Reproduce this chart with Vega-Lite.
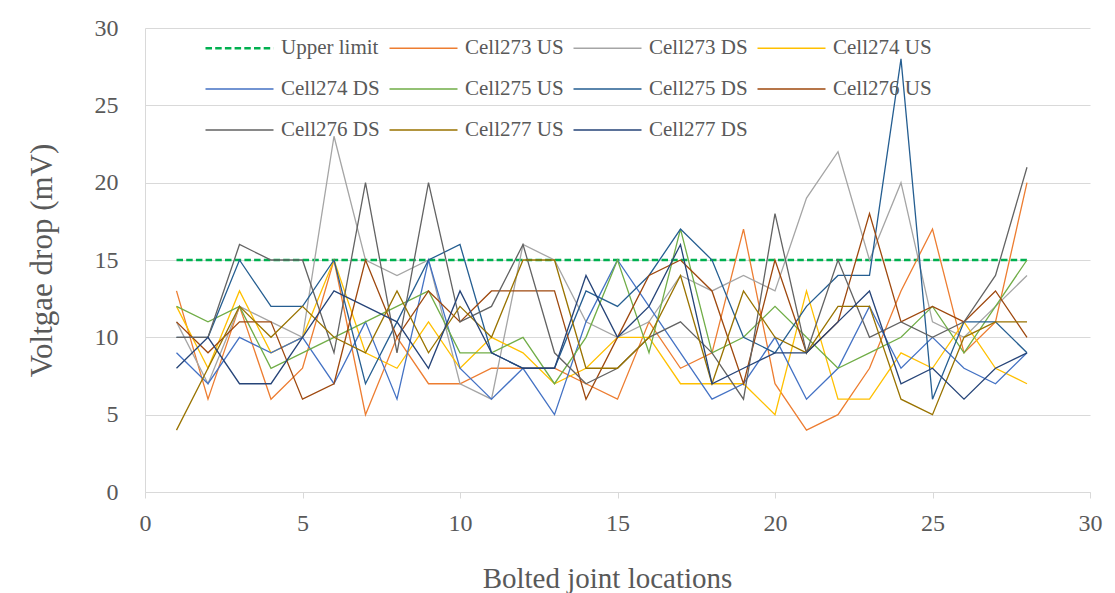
{
  "$schema": "https://vega.github.io/schema/vega-lite/v6.json",
  "width": 945,
  "height": 464,
  "autosize": {"type": "none"},
  "padding": {"left": 145, "top": 28, "right": 25, "bottom": 101},
  "background": "white",
  "config": {"view": {"stroke": null}},
  "data": {"values": [
    {"loc":1,"mV":15,"series":"Upper limit"},{"loc":2,"mV":15,"series":"Upper limit"},{"loc":3,"mV":15,"series":"Upper limit"},{"loc":4,"mV":15,"series":"Upper limit"},{"loc":5,"mV":15,"series":"Upper limit"},{"loc":6,"mV":15,"series":"Upper limit"},{"loc":7,"mV":15,"series":"Upper limit"},{"loc":8,"mV":15,"series":"Upper limit"},{"loc":9,"mV":15,"series":"Upper limit"},{"loc":10,"mV":15,"series":"Upper limit"},{"loc":11,"mV":15,"series":"Upper limit"},{"loc":12,"mV":15,"series":"Upper limit"},{"loc":13,"mV":15,"series":"Upper limit"},{"loc":14,"mV":15,"series":"Upper limit"},{"loc":15,"mV":15,"series":"Upper limit"},{"loc":16,"mV":15,"series":"Upper limit"},{"loc":17,"mV":15,"series":"Upper limit"},{"loc":18,"mV":15,"series":"Upper limit"},{"loc":19,"mV":15,"series":"Upper limit"},{"loc":20,"mV":15,"series":"Upper limit"},{"loc":21,"mV":15,"series":"Upper limit"},{"loc":22,"mV":15,"series":"Upper limit"},{"loc":23,"mV":15,"series":"Upper limit"},{"loc":24,"mV":15,"series":"Upper limit"},{"loc":25,"mV":15,"series":"Upper limit"},{"loc":26,"mV":15,"series":"Upper limit"},{"loc":27,"mV":15,"series":"Upper limit"},{"loc":28,"mV":15,"series":"Upper limit"},

    {"loc":1,"mV":13,"series":"Cell273 US"},{"loc":2,"mV":6,"series":"Cell273 US"},{"loc":3,"mV":12,"series":"Cell273 US"},{"loc":4,"mV":6,"series":"Cell273 US"},{"loc":5,"mV":8,"series":"Cell273 US"},{"loc":6,"mV":15,"series":"Cell273 US"},{"loc":7,"mV":5,"series":"Cell273 US"},{"loc":8,"mV":10,"series":"Cell273 US"},{"loc":9,"mV":7,"series":"Cell273 US"},{"loc":10,"mV":7,"series":"Cell273 US"},{"loc":11,"mV":8,"series":"Cell273 US"},{"loc":12,"mV":8,"series":"Cell273 US"},{"loc":13,"mV":8,"series":"Cell273 US"},{"loc":14,"mV":7,"series":"Cell273 US"},{"loc":15,"mV":6,"series":"Cell273 US"},{"loc":16,"mV":11,"series":"Cell273 US"},{"loc":17,"mV":8,"series":"Cell273 US"},{"loc":18,"mV":9,"series":"Cell273 US"},{"loc":19,"mV":17,"series":"Cell273 US"},{"loc":20,"mV":7,"series":"Cell273 US"},{"loc":21,"mV":4,"series":"Cell273 US"},{"loc":22,"mV":5,"series":"Cell273 US"},{"loc":23,"mV":8,"series":"Cell273 US"},{"loc":24,"mV":13,"series":"Cell273 US"},{"loc":25,"mV":17,"series":"Cell273 US"},{"loc":26,"mV":9,"series":"Cell273 US"},{"loc":27,"mV":11,"series":"Cell273 US"},{"loc":28,"mV":20,"series":"Cell273 US"},

    {"loc":1,"mV":11,"series":"Cell273 DS"},{"loc":2,"mV":7,"series":"Cell273 DS"},{"loc":3,"mV":12,"series":"Cell273 DS"},{"loc":4,"mV":11,"series":"Cell273 DS"},{"loc":5,"mV":10,"series":"Cell273 DS"},{"loc":6,"mV":23,"series":"Cell273 DS"},{"loc":7,"mV":15,"series":"Cell273 DS"},{"loc":8,"mV":14,"series":"Cell273 DS"},{"loc":9,"mV":15,"series":"Cell273 DS"},{"loc":10,"mV":7,"series":"Cell273 DS"},{"loc":11,"mV":6,"series":"Cell273 DS"},{"loc":12,"mV":16,"series":"Cell273 DS"},{"loc":13,"mV":15,"series":"Cell273 DS"},{"loc":14,"mV":11,"series":"Cell273 DS"},{"loc":15,"mV":10,"series":"Cell273 DS"},{"loc":16,"mV":11,"series":"Cell273 DS"},{"loc":17,"mV":14,"series":"Cell273 DS"},{"loc":18,"mV":13,"series":"Cell273 DS"},{"loc":19,"mV":14,"series":"Cell273 DS"},{"loc":20,"mV":13,"series":"Cell273 DS"},{"loc":21,"mV":19,"series":"Cell273 DS"},{"loc":22,"mV":22,"series":"Cell273 DS"},{"loc":23,"mV":15,"series":"Cell273 DS"},{"loc":24,"mV":20,"series":"Cell273 DS"},{"loc":25,"mV":11,"series":"Cell273 DS"},{"loc":26,"mV":10,"series":"Cell273 DS"},{"loc":27,"mV":12,"series":"Cell273 DS"},{"loc":28,"mV":14,"series":"Cell273 DS"},

    {"loc":1,"mV":12,"series":"Cell274 US"},{"loc":2,"mV":8,"series":"Cell274 US"},{"loc":3,"mV":13,"series":"Cell274 US"},{"loc":4,"mV":9,"series":"Cell274 US"},{"loc":5,"mV":10,"series":"Cell274 US"},{"loc":6,"mV":15,"series":"Cell274 US"},{"loc":7,"mV":9,"series":"Cell274 US"},{"loc":8,"mV":8,"series":"Cell274 US"},{"loc":9,"mV":11,"series":"Cell274 US"},{"loc":10,"mV":8,"series":"Cell274 US"},{"loc":11,"mV":10,"series":"Cell274 US"},{"loc":12,"mV":9,"series":"Cell274 US"},{"loc":13,"mV":7,"series":"Cell274 US"},{"loc":14,"mV":8,"series":"Cell274 US"},{"loc":15,"mV":10,"series":"Cell274 US"},{"loc":16,"mV":10,"series":"Cell274 US"},{"loc":17,"mV":7,"series":"Cell274 US"},{"loc":18,"mV":7,"series":"Cell274 US"},{"loc":19,"mV":7,"series":"Cell274 US"},{"loc":20,"mV":5,"series":"Cell274 US"},{"loc":21,"mV":13,"series":"Cell274 US"},{"loc":22,"mV":6,"series":"Cell274 US"},{"loc":23,"mV":6,"series":"Cell274 US"},{"loc":24,"mV":9,"series":"Cell274 US"},{"loc":25,"mV":8,"series":"Cell274 US"},{"loc":26,"mV":11,"series":"Cell274 US"},{"loc":27,"mV":8,"series":"Cell274 US"},{"loc":28,"mV":7,"series":"Cell274 US"},

    {"loc":1,"mV":9,"series":"Cell274 DS"},{"loc":2,"mV":7,"series":"Cell274 DS"},{"loc":3,"mV":10,"series":"Cell274 DS"},{"loc":4,"mV":9,"series":"Cell274 DS"},{"loc":5,"mV":10,"series":"Cell274 DS"},{"loc":6,"mV":7,"series":"Cell274 DS"},{"loc":7,"mV":11,"series":"Cell274 DS"},{"loc":8,"mV":6,"series":"Cell274 DS"},{"loc":9,"mV":15,"series":"Cell274 DS"},{"loc":10,"mV":8,"series":"Cell274 DS"},{"loc":11,"mV":6,"series":"Cell274 DS"},{"loc":12,"mV":8,"series":"Cell274 DS"},{"loc":13,"mV":5,"series":"Cell274 DS"},{"loc":14,"mV":11,"series":"Cell274 DS"},{"loc":15,"mV":15,"series":"Cell274 DS"},{"loc":16,"mV":12,"series":"Cell274 DS"},{"loc":17,"mV":9,"series":"Cell274 DS"},{"loc":18,"mV":6,"series":"Cell274 DS"},{"loc":19,"mV":7,"series":"Cell274 DS"},{"loc":20,"mV":10,"series":"Cell274 DS"},{"loc":21,"mV":6,"series":"Cell274 DS"},{"loc":22,"mV":8,"series":"Cell274 DS"},{"loc":23,"mV":12,"series":"Cell274 DS"},{"loc":24,"mV":8,"series":"Cell274 DS"},{"loc":25,"mV":10,"series":"Cell274 DS"},{"loc":26,"mV":8,"series":"Cell274 DS"},{"loc":27,"mV":7,"series":"Cell274 DS"},{"loc":28,"mV":9,"series":"Cell274 DS"},

    {"loc":1,"mV":12,"series":"Cell275 US"},{"loc":2,"mV":11,"series":"Cell275 US"},{"loc":3,"mV":12,"series":"Cell275 US"},{"loc":4,"mV":8,"series":"Cell275 US"},{"loc":5,"mV":9,"series":"Cell275 US"},{"loc":6,"mV":10,"series":"Cell275 US"},{"loc":7,"mV":11,"series":"Cell275 US"},{"loc":8,"mV":12,"series":"Cell275 US"},{"loc":9,"mV":13,"series":"Cell275 US"},{"loc":10,"mV":9,"series":"Cell275 US"},{"loc":11,"mV":9,"series":"Cell275 US"},{"loc":12,"mV":10,"series":"Cell275 US"},{"loc":13,"mV":7,"series":"Cell275 US"},{"loc":14,"mV":10,"series":"Cell275 US"},{"loc":15,"mV":15,"series":"Cell275 US"},{"loc":16,"mV":9,"series":"Cell275 US"},{"loc":17,"mV":17,"series":"Cell275 US"},{"loc":18,"mV":9,"series":"Cell275 US"},{"loc":19,"mV":10,"series":"Cell275 US"},{"loc":20,"mV":12,"series":"Cell275 US"},{"loc":21,"mV":10,"series":"Cell275 US"},{"loc":22,"mV":8,"series":"Cell275 US"},{"loc":23,"mV":9,"series":"Cell275 US"},{"loc":24,"mV":10,"series":"Cell275 US"},{"loc":25,"mV":12,"series":"Cell275 US"},{"loc":26,"mV":9,"series":"Cell275 US"},{"loc":27,"mV":12,"series":"Cell275 US"},{"loc":28,"mV":15,"series":"Cell275 US"},

    {"loc":1,"mV":10,"series":"Cell275 DS"},{"loc":2,"mV":10,"series":"Cell275 DS"},{"loc":3,"mV":15,"series":"Cell275 DS"},{"loc":4,"mV":12,"series":"Cell275 DS"},{"loc":5,"mV":12,"series":"Cell275 DS"},{"loc":6,"mV":15,"series":"Cell275 DS"},{"loc":7,"mV":7,"series":"Cell275 DS"},{"loc":8,"mV":11,"series":"Cell275 DS"},{"loc":9,"mV":15,"series":"Cell275 DS"},{"loc":10,"mV":16,"series":"Cell275 DS"},{"loc":11,"mV":9,"series":"Cell275 DS"},{"loc":12,"mV":8,"series":"Cell275 DS"},{"loc":13,"mV":8,"series":"Cell275 DS"},{"loc":14,"mV":13,"series":"Cell275 DS"},{"loc":15,"mV":12,"series":"Cell275 DS"},{"loc":16,"mV":14,"series":"Cell275 DS"},{"loc":17,"mV":17,"series":"Cell275 DS"},{"loc":18,"mV":15,"series":"Cell275 DS"},{"loc":19,"mV":10,"series":"Cell275 DS"},{"loc":20,"mV":9,"series":"Cell275 DS"},{"loc":21,"mV":12,"series":"Cell275 DS"},{"loc":22,"mV":14,"series":"Cell275 DS"},{"loc":23,"mV":14,"series":"Cell275 DS"},{"loc":24,"mV":28,"series":"Cell275 DS"},{"loc":25,"mV":6,"series":"Cell275 DS"},{"loc":26,"mV":11,"series":"Cell275 DS"},{"loc":27,"mV":11,"series":"Cell275 DS"},{"loc":28,"mV":9,"series":"Cell275 DS"},

    {"loc":1,"mV":11,"series":"Cell276 US"},{"loc":2,"mV":9,"series":"Cell276 US"},{"loc":3,"mV":11,"series":"Cell276 US"},{"loc":4,"mV":11,"series":"Cell276 US"},{"loc":5,"mV":6,"series":"Cell276 US"},{"loc":6,"mV":7,"series":"Cell276 US"},{"loc":7,"mV":15,"series":"Cell276 US"},{"loc":8,"mV":10,"series":"Cell276 US"},{"loc":9,"mV":13,"series":"Cell276 US"},{"loc":10,"mV":11,"series":"Cell276 US"},{"loc":11,"mV":13,"series":"Cell276 US"},{"loc":12,"mV":13,"series":"Cell276 US"},{"loc":13,"mV":13,"series":"Cell276 US"},{"loc":14,"mV":6,"series":"Cell276 US"},{"loc":15,"mV":10,"series":"Cell276 US"},{"loc":16,"mV":14,"series":"Cell276 US"},{"loc":17,"mV":15,"series":"Cell276 US"},{"loc":18,"mV":13,"series":"Cell276 US"},{"loc":19,"mV":7,"series":"Cell276 US"},{"loc":20,"mV":15,"series":"Cell276 US"},{"loc":21,"mV":9,"series":"Cell276 US"},{"loc":22,"mV":11,"series":"Cell276 US"},{"loc":23,"mV":18,"series":"Cell276 US"},{"loc":24,"mV":11,"series":"Cell276 US"},{"loc":25,"mV":12,"series":"Cell276 US"},{"loc":26,"mV":11,"series":"Cell276 US"},{"loc":27,"mV":13,"series":"Cell276 US"},{"loc":28,"mV":10,"series":"Cell276 US"},

    {"loc":1,"mV":10,"series":"Cell276 DS"},{"loc":2,"mV":10,"series":"Cell276 DS"},{"loc":3,"mV":16,"series":"Cell276 DS"},{"loc":4,"mV":15,"series":"Cell276 DS"},{"loc":5,"mV":15,"series":"Cell276 DS"},{"loc":6,"mV":9,"series":"Cell276 DS"},{"loc":7,"mV":20,"series":"Cell276 DS"},{"loc":8,"mV":9,"series":"Cell276 DS"},{"loc":9,"mV":20,"series":"Cell276 DS"},{"loc":10,"mV":11,"series":"Cell276 DS"},{"loc":11,"mV":12,"series":"Cell276 DS"},{"loc":12,"mV":16,"series":"Cell276 DS"},{"loc":13,"mV":9,"series":"Cell276 DS"},{"loc":14,"mV":7,"series":"Cell276 DS"},{"loc":15,"mV":8,"series":"Cell276 DS"},{"loc":16,"mV":10,"series":"Cell276 DS"},{"loc":17,"mV":11,"series":"Cell276 DS"},{"loc":18,"mV":9,"series":"Cell276 DS"},{"loc":19,"mV":6,"series":"Cell276 DS"},{"loc":20,"mV":18,"series":"Cell276 DS"},{"loc":21,"mV":9,"series":"Cell276 DS"},{"loc":22,"mV":15,"series":"Cell276 DS"},{"loc":23,"mV":10,"series":"Cell276 DS"},{"loc":24,"mV":11,"series":"Cell276 DS"},{"loc":25,"mV":10,"series":"Cell276 DS"},{"loc":26,"mV":11,"series":"Cell276 DS"},{"loc":27,"mV":14,"series":"Cell276 DS"},{"loc":28,"mV":21,"series":"Cell276 DS"},

    {"loc":1,"mV":4,"series":"Cell277 US"},{"loc":2,"mV":8,"series":"Cell277 US"},{"loc":3,"mV":12,"series":"Cell277 US"},{"loc":4,"mV":10,"series":"Cell277 US"},{"loc":5,"mV":12,"series":"Cell277 US"},{"loc":6,"mV":10,"series":"Cell277 US"},{"loc":7,"mV":9,"series":"Cell277 US"},{"loc":8,"mV":13,"series":"Cell277 US"},{"loc":9,"mV":9,"series":"Cell277 US"},{"loc":10,"mV":12,"series":"Cell277 US"},{"loc":11,"mV":10,"series":"Cell277 US"},{"loc":12,"mV":15,"series":"Cell277 US"},{"loc":13,"mV":15,"series":"Cell277 US"},{"loc":14,"mV":8,"series":"Cell277 US"},{"loc":15,"mV":8,"series":"Cell277 US"},{"loc":16,"mV":10,"series":"Cell277 US"},{"loc":17,"mV":14,"series":"Cell277 US"},{"loc":18,"mV":7,"series":"Cell277 US"},{"loc":19,"mV":13,"series":"Cell277 US"},{"loc":20,"mV":10,"series":"Cell277 US"},{"loc":21,"mV":9,"series":"Cell277 US"},{"loc":22,"mV":12,"series":"Cell277 US"},{"loc":23,"mV":12,"series":"Cell277 US"},{"loc":24,"mV":6,"series":"Cell277 US"},{"loc":25,"mV":5,"series":"Cell277 US"},{"loc":26,"mV":10,"series":"Cell277 US"},{"loc":27,"mV":11,"series":"Cell277 US"},{"loc":28,"mV":11,"series":"Cell277 US"},

    {"loc":1,"mV":8,"series":"Cell277 DS"},{"loc":2,"mV":10,"series":"Cell277 DS"},{"loc":3,"mV":7,"series":"Cell277 DS"},{"loc":4,"mV":7,"series":"Cell277 DS"},{"loc":5,"mV":10,"series":"Cell277 DS"},{"loc":6,"mV":13,"series":"Cell277 DS"},{"loc":7,"mV":12,"series":"Cell277 DS"},{"loc":8,"mV":11,"series":"Cell277 DS"},{"loc":9,"mV":8,"series":"Cell277 DS"},{"loc":10,"mV":13,"series":"Cell277 DS"},{"loc":11,"mV":9,"series":"Cell277 DS"},{"loc":12,"mV":8,"series":"Cell277 DS"},{"loc":13,"mV":8,"series":"Cell277 DS"},{"loc":14,"mV":14,"series":"Cell277 DS"},{"loc":15,"mV":10,"series":"Cell277 DS"},{"loc":16,"mV":12,"series":"Cell277 DS"},{"loc":17,"mV":16,"series":"Cell277 DS"},{"loc":18,"mV":7,"series":"Cell277 DS"},{"loc":19,"mV":8,"series":"Cell277 DS"},{"loc":20,"mV":9,"series":"Cell277 DS"},{"loc":21,"mV":9,"series":"Cell277 DS"},{"loc":22,"mV":11,"series":"Cell277 DS"},{"loc":23,"mV":13,"series":"Cell277 DS"},{"loc":24,"mV":7,"series":"Cell277 DS"},{"loc":25,"mV":8,"series":"Cell277 DS"},{"loc":26,"mV":6,"series":"Cell277 DS"},{"loc":27,"mV":8,"series":"Cell277 DS"},{"loc":28,"mV":9,"series":"Cell277 DS"}
  ]},
  "encoding": {
    "x": {"field": "loc", "type": "quantitative",
      "scale": {"domain": [0, 30], "nice": false, "zero": false},
      "axis": {"values": [0,5,10,15,20,25,30], "grid": false, "domainColor": "#D9D9D9", "domainWidth": 1,
        "tickColor": "#D9D9D9", "tickSize": 6, "labelFont": "Liberation Serif", "labelFontSize": 24,
        "labelColor": "#595959", "labelPadding": 13, "labelFlush": false,
        "title": "Bolted joint locations", "titleFont": "Liberation Serif", "titleFontSize": 29,
        "titleFontWeight": "normal", "titleColor": "#595959", "titleBaseline": "middle", "titleY": 86, "titleX": 462}},
    "y": {"field": "mV", "type": "quantitative",
      "scale": {"domain": [0, 30], "nice": false, "zero": true},
      "axis": {"values": [0,5,10,15,20,25,30], "grid": true, "gridColor": "#D9D9D9", "gridWidth": 1,
        "domain": true, "domainColor": "#D9D9D9", "ticks": false,
        "labelFont": "Liberation Serif", "labelFontSize": 24, "labelColor": "#595959", "labelPadding": 27,
        "title": "Voltgae drop (mV)", "titleFont": "Liberation Serif", "titleFontSize": 31,
        "titleFontWeight": "normal", "titleColor": "#595959", "titleBaseline": "middle", "titleX": -103}},
    "color": {"field": "series", "type": "nominal",
      "scale": {"domain": ["Upper limit","Cell273 US","Cell273 DS","Cell274 US","Cell274 DS","Cell275 US","Cell275 DS","Cell276 US","Cell276 DS","Cell277 US","Cell277 DS"],
        "range": ["#00B050","#ED7D31","#A5A5A5","#FFC000","#4472C4","#70AD47","#255E91","#9E480E","#636363","#997300","#264478"]},
      "legend": {"orient": "none", "legendX": 84, "legendY": 9.5, "direction": "horizontal", "columns": 4,
        "title": null, "symbolType": "M-3.4,0H3.4", "symbolSize": 400, "symbolStrokeWidth": 1.5,
        "labelFont": "Liberation Serif", "labelFontSize": 21, "labelColor": "#595959", "labelOffset": 31,
        "columnPadding": 6, "rowPadding": 19, "gridAlign": "all", "padding": 0, "labelLimit": 0,
        "encode": {"symbols": {"update": {
          "strokeDash": {"signal": "datum.value === 'Upper limit' ? [6.5, 3.2] : [1, 0]"},
          "strokeWidth": {"signal": "datum.value === 'Upper limit' ? 2.5 : 1.5"}}}}}}
  },
  "layer": [
    {"transform": [{"filter": "datum.series === 'Upper limit'"}],
     "mark": {"type": "line", "strokeWidth": 2.5, "strokeDash": [6.5, 3.2]}},
    {"transform": [{"filter": "datum.series !== 'Upper limit'"}],
     "mark": {"type": "line", "strokeWidth": 1.3}}
  ]
}
